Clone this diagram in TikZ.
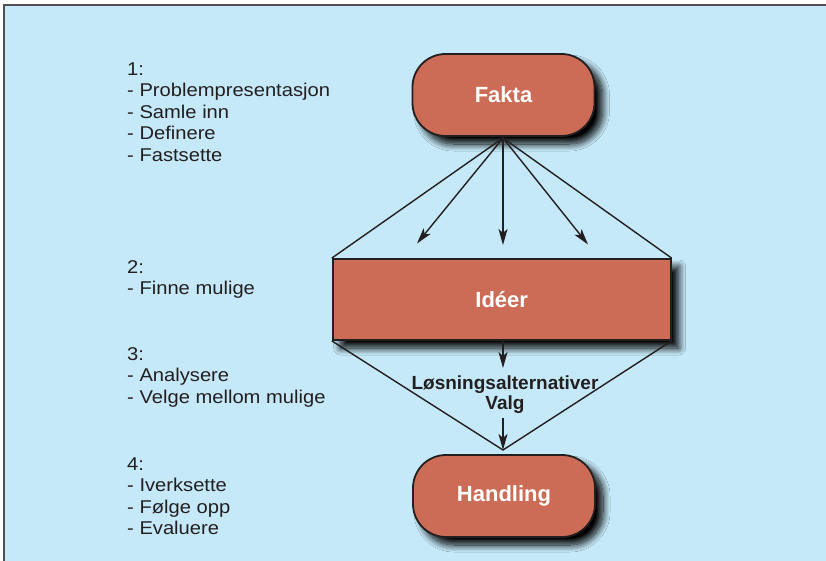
\documentclass[tikz,border=0pt]{standalone}
\usepackage{fontspec}
\setmainfont{Liberation Sans}
\usetikzlibrary{arrows.meta,shadows.blur}
\definecolor{bgblue}{RGB}{197,233,248}
\definecolor{brick}{RGB}{204,108,86}
\definecolor{ink}{RGB}{35,31,32}
\definecolor{frame}{RGB}{80,80,80}
\newfontfamily\listfont[FakeStretch=1.09]{Liberation Sans}
\tikzset{
  stagebox/.style={draw=ink, line width=1.8pt, fill=brick, text=white,
    font=\fontsize{22}{26}\selectfont\bfseries, inner sep=0pt,
    blur shadow={shadow xshift=8pt, shadow yshift=-8pt, shadow blur radius=7pt,
      shadow blur steps=14, shadow opacity=100}},
  pill/.style={stagebox, rounded corners=33pt, minimum width=182pt, minimum height=82pt},
  band/.style={stagebox, minimum width=338pt, minimum height=81pt},
  listtext/.style={anchor=base west, inner sep=0pt, align=left, text=ink,
    font=\listfont\fontsize{18.5}{21.5}\selectfont},
  flow/.style={draw=ink, line width=1.4pt},
  arr/.style={flow, -{Stealth[length=16pt, width=9pt, inset=4pt]}},
  midtext/.style={inner sep=0pt, anchor=base, text=ink,
    font=\fontsize{19}{21}\selectfont\bfseries}
}
\begin{document}
\begin{tikzpicture}[x=1pt, y=-1pt]
  \useasboundingbox (0,0) rectangle (826,561);
  % backdrop and its frame
  \fill[bgblue] (4,5) rectangle (826,561);
  \draw[frame, line width=2pt] (4,561) -- (4,5) -- (826,5);

  % left-hand step lists (each placed by the baseline of its last line)
  \node[listtext] (s1) at (127,161.5) {1:\\- Problempresentasjon\\- Samle inn\\- Definere\\- Fastsette};
  \node[listtext] (s2) at (127,294.8) {2:\\- Finne mulige};
  \node[listtext] (s3) at (127,403.2) {3:\\- Analysere\\- Velge mellom mulige};
  \node[listtext] (s4) at (127,534.8) {4:\\- Iverksette\\- Følge opp\\- Evaluere};

  % stages
  \node[pill] (fakta) at (503.5,95) {Fakta};
  \node[band] (ideer) at (501.7,299.5) {Idéer};
  \node[pill] (handling) at (504,496) {Handling};

  % funnel from Fakta to Idéer
  \coordinate (top) at (503,138);
  \coordinate (a1) at (417,243.5);
  \coordinate (a2) at (503,245);
  \coordinate (a3) at (588,244.5);
  \draw[flow] (ideer.north west) -- (top) -- (ideer.north east);
  \draw[arr] (top) -- (a1);
  \draw[arr] (top) -- (a2);
  \draw[arr] (top) -- (a3);

  % funnel from Idéer to Handling
  \coordinate (apex) at (503,450);
  \coordinate (b1) at (503,368);
  \coordinate (b2) at (503,418);
  \draw[flow] (ideer.south west) -- (apex) -- (ideer.south east);
  \node[midtext] (alt) at (505,389) {Løsningsalternativer};
  \node[midtext] (valg) at (505,409) {Valg};
  \draw[arr] (ideer.south -| apex) -- (b1);
  \draw[arr] (b2) -- (apex);
\end{tikzpicture}
\end{document}
